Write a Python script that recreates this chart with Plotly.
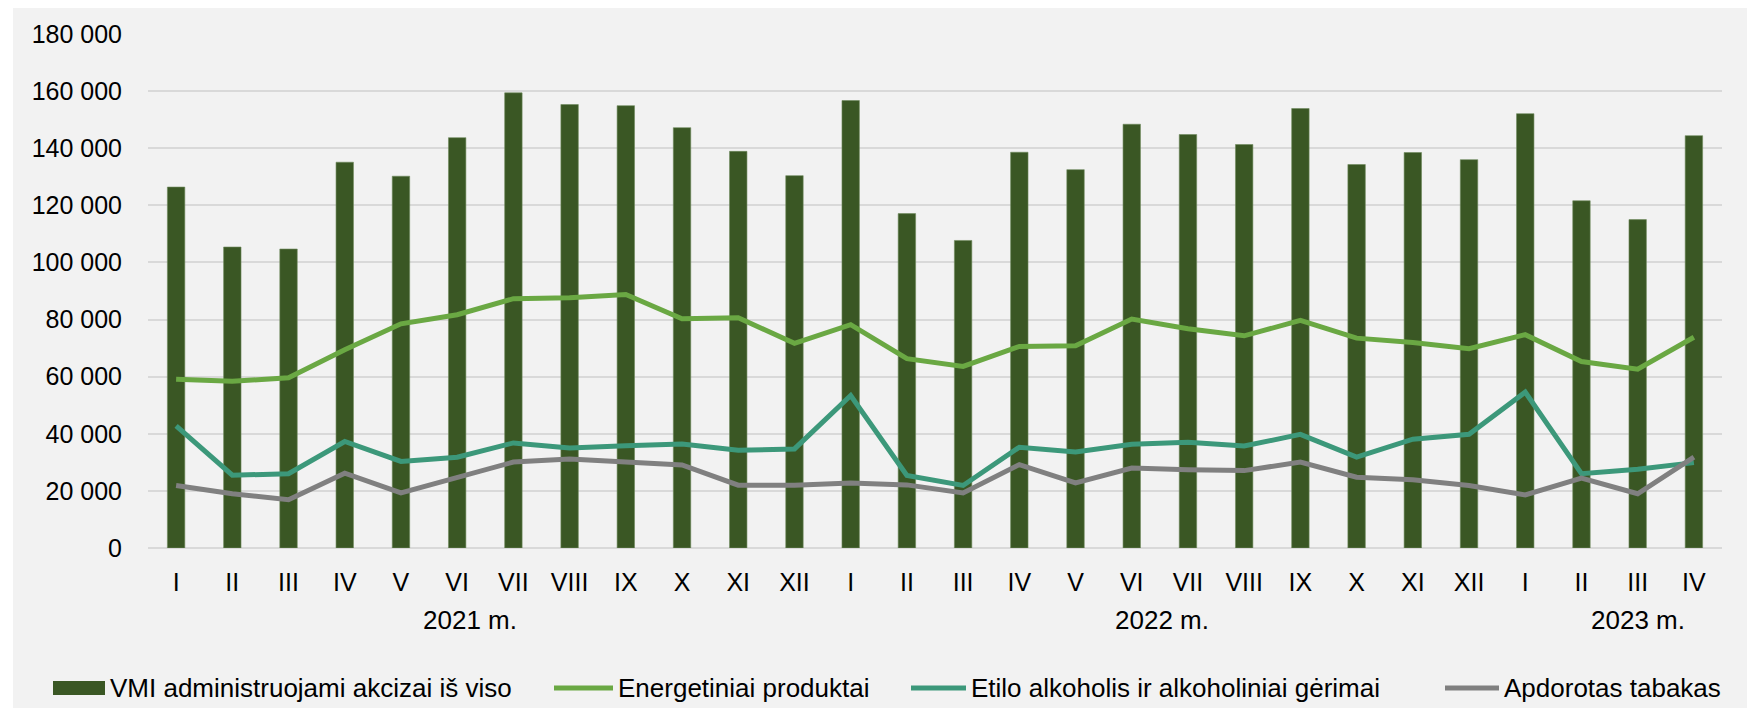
import plotly.graph_objects as go

# Monthly excise revenue, 2021 I – 2023 IV
months = ["I", "II", "III", "IV", "V", "VI", "VII", "VIII", "IX", "X", "XI", "XII",
          "I", "II", "III", "IV", "V", "VI", "VII", "VIII", "IX", "X", "XI", "XII",
          "I", "II", "III", "IV"]
years = ["2021 m.", "2022 m.", "2023 m."]

total_excise = [126400, 105400, 104700, 135100, 130200, 143700, 159400, 155300,
                154900, 147200, 138900, 130400,
                156700, 117100, 107700, 138600, 132500, 148400, 144800, 141300,
                153900, 134300, 138500, 136000,
                152100, 121600, 115000, 144400]
energy = [59100, 58400, 59600, 69400, 78500, 81700, 87300, 87600,
          88800, 80300, 80600, 71700,
          78200, 66300, 63600, 70600, 70800, 80200, 76800, 74300,
          79700, 73500, 72000, 69800,
          74700, 65300, 62600, 73800]
alcohol = [42800, 25500, 26000, 37300, 30300, 31800, 36800, 35000,
           35800, 36400, 34200, 34700,
           53400, 25400, 21900, 35300, 33600, 36300, 37000, 35700,
           39800, 31800, 38100, 39800,
           54600, 26000, 27600, 29900]
tobacco = [21900, 19000, 16900, 26200, 19300, 24800, 30100, 31200,
           30100, 29100, 22000, 22000,
           22800, 22100, 19300, 29200, 22800, 28000, 27400, 27100,
           30100, 24800, 23900, 21900,
           18600, 24500, 19000, 31800]

names = ["VMI administruojami akcizai iš viso", "Energetiniai produktai",
         "Etilo alkoholis ir alkoholiniai gėrimai", "Apdorotas tabakas"]
colors = ["#3a5724", "#6aa843", "#3c987a", "#808080"]

FONT = "Liberation Sans, Arial, sans-serif"
# the page body keeps an 8px margin, so the figure is 1739x700 at (8, 8)
OX, OY = 8, 8
W, H = 1739, 700
L, R, T, B = 140, 25, 26, 160
pw, ph = W - L - R, H - T - B


def px(x):
    # window pixel -> paper x
    return (x - OX - L) / pw


def py(y):
    # window pixel -> paper y
    return (H - B - (y - OY)) / ph


x = list(range(len(months)))

fig = go.Figure()
fig.add_trace(go.Bar(x=x, y=total_excise, name=names[0], width=0.31,
                     marker=dict(color=colors[0], line=dict(color="#6f8a5c", width=0.6))))
for vals, name, col in zip([energy, alcohol, tobacco], names[1:], colors[1:]):
    fig.add_trace(go.Scatter(x=x, y=vals, name=name, mode="lines",
                             line=dict(color=col, width=5)))

# background panel
fig.add_shape(type="rect", xref="paper", yref="paper",
              x0=px(13), x1=px(1747), y0=py(716), y1=py(5),
              fillcolor="#f2f2f2", line_width=0, layer="below")

# year labels under the month ticks
year_pos = [5.23, 17.53, 26.01]
for yr, xp in zip(years, year_pos):
    fig.add_annotation(x=xp, y=py(620), xref="x", yref="paper", text=yr,
                       showarrow=False, yanchor="middle",
                       font=dict(family=FONT, size=26, color="#000000"))

# legend drawn by hand to match the wide swatches
leg_y = 688
swatches = [(53, 105), (554, 613), (911, 966), (1445, 1499)]
for (s0, s1), name, col, i in zip(swatches, names, colors, range(4)):
    if i == 0:
        fig.add_shape(type="rect", xref="paper", yref="paper",
                      x0=px(s0), x1=px(s1), y0=py(leg_y + 7), y1=py(leg_y - 7),
                      fillcolor=col, line_width=0)
    else:
        fig.add_shape(type="line", xref="paper", yref="paper",
                      x0=px(s0), x1=px(s1), y0=py(leg_y), y1=py(leg_y),
                      line=dict(color=col, width=5))
    fig.add_annotation(x=px(s1 + 3), y=py(leg_y), xref="paper", yref="paper",
                       text=name, showarrow=False, xanchor="left", yanchor="middle",
                       font=dict(family=FONT, size=26, color="#000000"))

fig.update_layout(
    margin=dict(l=L, r=R, t=T, b=B),
    paper_bgcolor="#ffffff",
    plot_bgcolor="rgba(0,0,0,0)",
    showlegend=False,
    separators=", ",
    font=dict(family=FONT, size=25, color="#000000"),
    xaxis=dict(tickmode="array", tickvals=x, ticktext=months, range=[-0.5, 27.5],
               showgrid=False, zeroline=False, showline=False,
               ticklabelstandoff=17, tickfont=dict(size=25)),
    yaxis=dict(range=[0, 180000], dtick=20000, tickformat=",.0f",
               showgrid=True, gridcolor="#d9d9d9", gridwidth=1.5,
               zeroline=True, zerolinecolor="#d9d9d9", zerolinewidth=1.5,
               showline=False, ticklabelstandoff=25, tickfont=dict(size=25)),
)

fig.write_html("out.html")
